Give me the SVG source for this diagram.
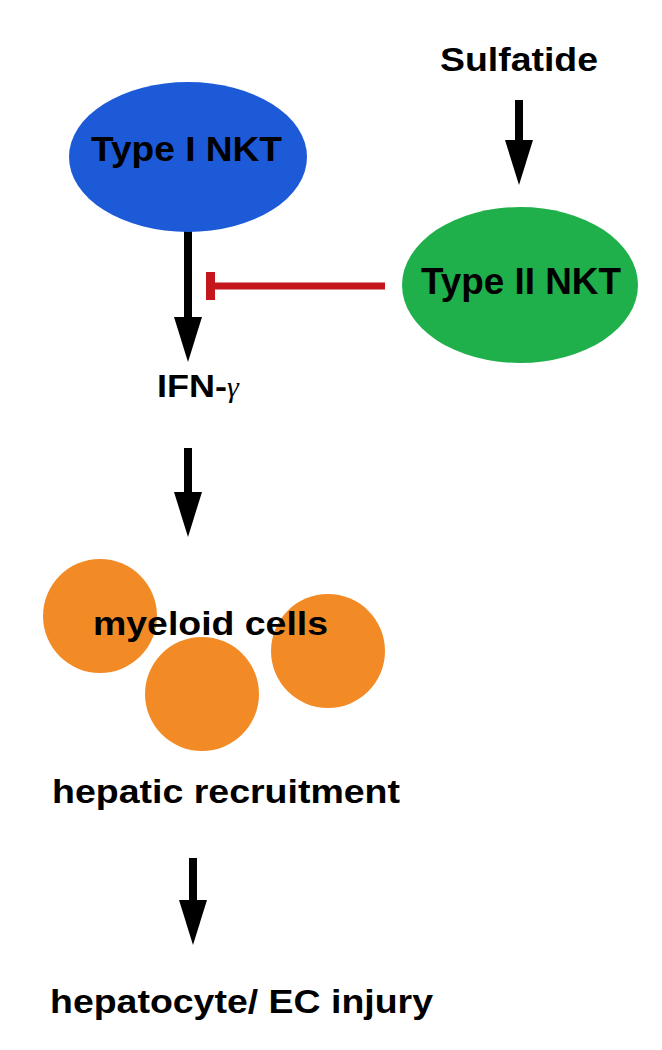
<svg xmlns="http://www.w3.org/2000/svg" width="662" height="1050" viewBox="0 0 662 1050">
  <defs>
    <style>
      .lbl { font-family: "Liberation Sans", Arial, sans-serif; font-weight: bold; fill: #000; }
      .arrow { stroke: #000; stroke-width: 8; fill: none; marker-end: url(#head); }
      .inhib { stroke: #c4161c; stroke-width: 7; fill: none; }
    </style>
    <marker id="head" markerUnits="userSpaceOnUse" markerWidth="46" markerHeight="30" viewBox="0 0 46 30" refX="1" refY="15" orient="auto">
      <path d="M0,1 L45,15 L0,29 Z" fill="#000"/>
    </marker>
  </defs>
  <rect width="662" height="1050" fill="#fff"/>

  <g id="connectors">
    <line class="arrow" x1="519" y1="100" x2="519" y2="141"/>
    <line class="arrow" x1="188" y1="218" x2="188" y2="318"/>
    <line class="inhib" x1="385" y1="286" x2="212" y2="286"/>
    <rect x="206" y="272" width="9" height="28" fill="#c4161c"/>
    <line class="arrow" x1="188" y1="448" x2="188" y2="493"/>
    <line class="arrow" x1="193" y1="858" x2="193" y2="901"/>
  </g>

  <g id="sulfatide">
    <text class="lbl" x="440" y="71" font-size="33" textLength="158" lengthAdjust="spacingAndGlyphs">Sulfatide</text>
  </g>

  <g id="type1nkt">
    <ellipse cx="188" cy="157" rx="119" ry="75" fill="#1d5ad8"/>
    <text class="lbl" x="91" y="161" font-size="35" textLength="191" lengthAdjust="spacingAndGlyphs">Type I NKT</text>
  </g>

  <g id="type2nkt">
    <ellipse cx="520" cy="285" rx="118" ry="78" fill="#20b04b"/>
    <text class="lbl" x="421" y="294" font-size="37" textLength="200" lengthAdjust="spacingAndGlyphs">Type II NKT</text>
  </g>

  <g id="ifng">
    <text class="lbl" x="157" y="397" font-size="32"><tspan textLength="70" lengthAdjust="spacingAndGlyphs">IFN-</tspan><tspan font-family="Liberation Serif, serif" font-weight="normal" font-style="italic" font-size="30">γ</tspan></text>
  </g>

  <g id="myeloid">
    <circle cx="100" cy="616" r="57" fill="#f28b25"/>
    <circle cx="202" cy="694" r="57" fill="#f28b25"/>
    <circle cx="328" cy="651" r="57" fill="#f28b25"/>
    <text class="lbl" x="93" y="635" font-size="33" textLength="235" lengthAdjust="spacingAndGlyphs">myeloid cells</text>
  </g>

  <g id="recruitment">
    <text class="lbl" x="52" y="803" font-size="33" textLength="348" lengthAdjust="spacingAndGlyphs">hepatic recruitment</text>
  </g>

  <g id="injury">
    <text class="lbl" x="50" y="1013" font-size="33" textLength="383" lengthAdjust="spacingAndGlyphs">hepatocyte/ EC injury</text>
  </g>
</svg>
